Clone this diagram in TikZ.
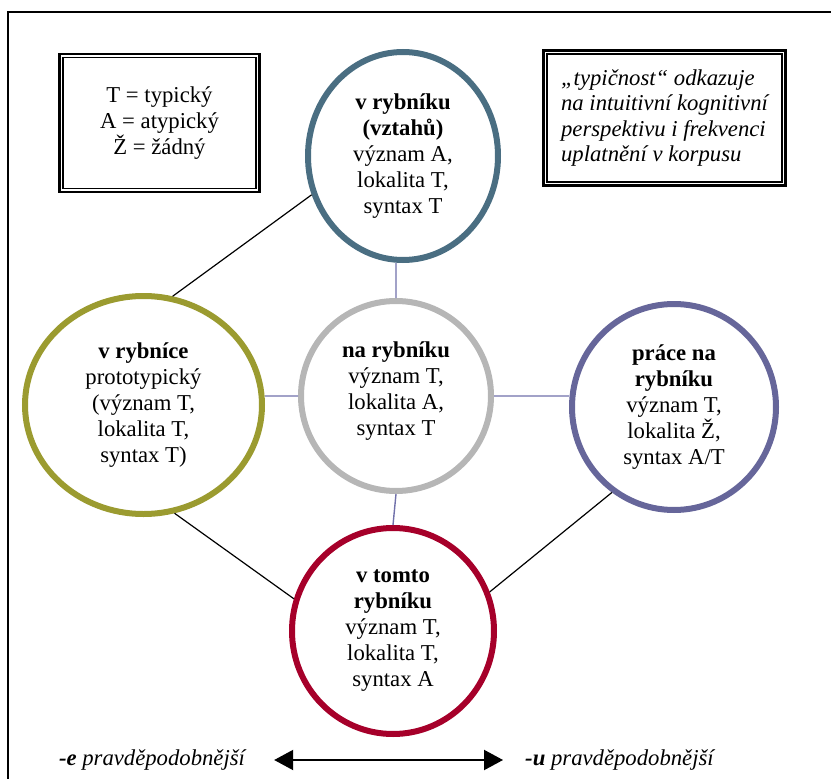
\documentclass[tikz,border=0pt]{standalone}
\usepackage{fontspec}
\setmainfont{Liberation Serif}
\usetikzlibrary{shapes.geometric, positioning, arrows.meta}

\definecolor{ringblue}{RGB}{74,110,130}
\definecolor{ringolive}{RGB}{155,155,48}
\definecolor{ringgrey}{RGB}{182,182,182}
\definecolor{ringpurple}{RGB}{102,102,154}
\definecolor{ringred}{RGB}{166,0,42}
\definecolor{linkpurple}{RGB}{112,112,170}

\begin{document}
\begin{tikzpicture}[x=1pt, y=-1pt, on grid, font=\fontsize{22.7}{26}\selectfont]
        \tikzset{ring/.style={ellipse, draw, line width=6pt, inner sep=0pt, align=center}}
        \tikzset{framed/.style={draw, line width=2.7pt, inner sep=0pt}}
        % thin line inside the framed boxes
        \tikzstyle{inner frame}=[line width=1.5pt]
        \tikzstyle{link}=[draw=linkpurple, line width=1.4pt]
        \tikzstyle{side}=[inner sep=0pt, font=\itshape\fontsize{22.7}{26}\selectfont]

        \useasboundingbox (0,0) rectangle (831,779);
        \draw[line width=1.5pt] (8,779) -- (8,12) -- (831,12);

        \node[framed, minimum width=200pt, minimum height=138pt, align=center] (key) at (159.5,123)
            {T = typický\\A = atypický\\Ž = žádný};
        \node[framed, minimum width=242pt, minimum height=135pt, align=left,
              font=\itshape\fontsize{22.7}{25.4}\selectfont] (note) at (664.5,118)
            {„typičnost“ odkazuje\\na intuitivní kognitivní\\perspektivu i frekvenci\\uplatnění v korpusu};
        \draw[inner frame] ([shift={(5pt,-5pt)}]key.north west) rectangle ([shift={(-5pt,5pt)}]key.south east);
        \draw[inner frame] ([shift={(5pt,-5pt)}]note.north west) rectangle ([shift={(-5pt,5pt)}]note.south east);

        \node[ring, draw=ringgrey, minimum width=190pt, minimum height=190pt, text depth=15pt] (na) at (396,396)
            {\textbf{na rybníku}\\význam T,\\lokalita A,\\syntax T};
        \node[ring, draw=ringblue, minimum width=190pt, minimum height=208pt] (vztahu) [above=240pt of na, xshift=7pt]
            {\textbf{v rybníku}\\\textbf{(vztahů)}\\význam A,\\lokalita T,\\syntax T};
        \node[ring, draw=ringolive, minimum width=237pt, minimum height=218pt] (rybnice) [left=252.5pt of na, yshift=-9pt]
            {\textbf{v rybníce}\\prototypický\\(význam T,\\lokalita T,\\syntax T)};
        \node[ring, draw=ringpurple, minimum width=204pt, minimum height=206pt] (prace) [right=278pt of na, yshift=-11pt]
            {\textbf{práce na}\\\textbf{rybníku}\\význam T,\\lokalita Ž,\\syntax A/T};
        \node[ring, draw=ringred, minimum width=202pt, minimum height=206pt] (tomto) [below=235pt of na, xshift=-3pt]
            {\textbf{v tomto}\\\textbf{rybníku}\\význam T,\\lokalita T,\\syntax A};

        \path[link]
        (na.north) -- (na.north |- vztahu.south)
        (na.south) -- (tomto.north)
        (na.west) -- (na.west -| rybnice.east)
        (na.east) -- (na.east -| prace.west);
        \draw[line width=1.2pt]
        (rybnice.75) -- (vztahu.203)
        (rybnice.286) -- (tomto.162)
        (prace.234) -- (tomto.22);

        \node[side] (eside) at (152,760) {\textbf{-e} pravděpodobnější};
        \node[side] (uside) at (619.5,760) {\textbf{-u} pravděpodobnější};
        \draw[{Triangle[length=19pt, width=20pt]}-{Triangle[length=19pt, width=20pt]}, line width=2pt,
              shorten <=29pt, shorten >=22pt] (eside) -- (uside);
\end{tikzpicture}
\end{document}
